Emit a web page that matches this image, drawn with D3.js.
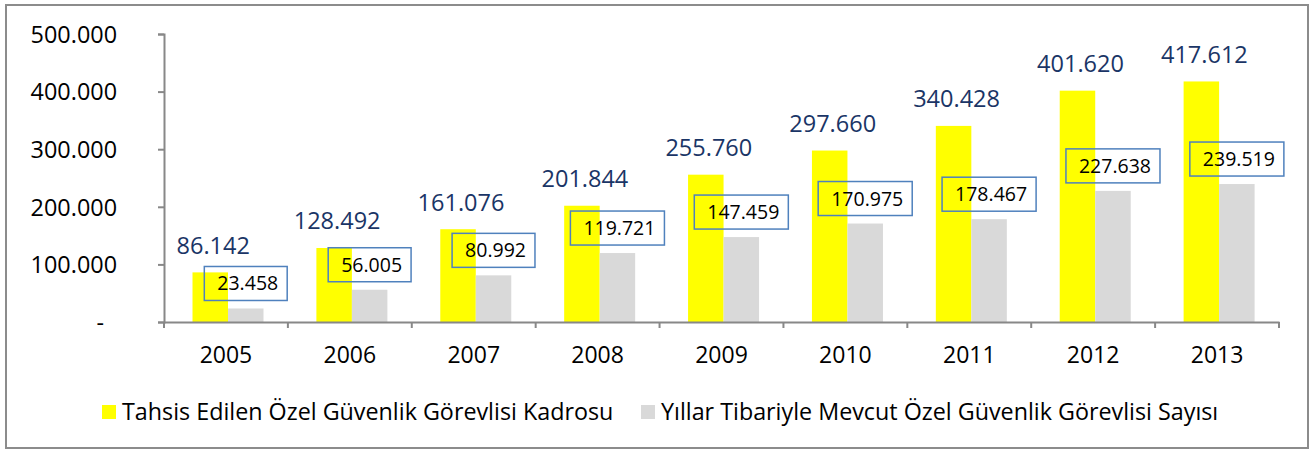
<!DOCTYPE html>
<html>
<head>
<meta charset="utf-8">
<script src="https://cdn.jsdelivr.net/npm/d3@7"></script>
<style>
  body { margin: 0; background: #fff; }
  svg { display: block; font-family: "Open Sans", sans-serif; }
</style>
</head>
<body>
<svg id="chart"></svg>
<script>
const years = ["2005", "2006", "2007", "2008", "2009", "2010", "2011", "2012", "2013"];
const allocated = [86142, 128492, 161076, 201844, 255760, 297660, 340428, 401620, 417612];
const actual = [23458, 56005, 80992, 119721, 147459, 170975, 178467, 227638, 239519];
const yTicks = [0, 100000, 200000, 300000, 400000, 500000];
const seriesNames = ["Tahsis Edilen Özel Güvenlik Görevlisi Kadrosu", "Yıllar Tibariyle Mevcut Özel Güvenlik Görevlisi Sayısı"];
const seriesColors = ["#FFFF00", "#D9D9D9"];

const width = 1314, height = 452;
const svg = d3.select("#chart").attr("width", width).attr("height", height);

const tr = d3.formatLocale({ decimal: ",", thousands: ".", grouping: [3], currency: ["", ""] });
const fmt = tr.format(",d");

// outer frame
svg.append("rect")
    .attr("x", 6).attr("y", 5)
    .attr("width", 1302).attr("height", 443)
    .attr("fill", "#fff")
    .attr("stroke", "#8c8c8c")
    .attr("stroke-width", 2);

const plot = {left: 164, right: 1279, top: 34, bottom: 322};

const x = d3.scaleBand().domain(years).range([plot.left, plot.right]).padding(0);
const xs = d3.scaleBand().domain([0, 1]).range([28.5, 28.5 + 71]).padding(0);
const y = d3.scaleLinear().domain([0, 500000]).range([plot.bottom, plot.top]);

// bars
const groups = svg.selectAll(".grp")
    .data(years)
    .enter().append("g")
    .attr("class", "grp")
    .attr("transform", d => `translate(${x(d)},0)`);

groups.append("rect")
    .attr("x", xs(0)).attr("width", xs.bandwidth())
    .attr("y", (d, i) => y(allocated[i]))
    .attr("height", (d, i) => plot.bottom - y(allocated[i]))
    .attr("fill", seriesColors[0]);

groups.append("rect")
    .attr("x", xs(1)).attr("width", xs.bandwidth())
    .attr("y", (d, i) => y(actual[i]))
    .attr("height", (d, i) => plot.bottom - y(actual[i]))
    .attr("fill", seriesColors[1]);

// axes
const yAxis = svg.append("g")
    .attr("transform", `translate(${plot.left},0)`)
    .call(d3.axisLeft(y).tickValues(yTicks).tickSize(6).tickPadding(0).tickFormat(d => d === 0 ? "-" : fmt(d)))
    .attr("font-family", "'Open Sans', sans-serif");
yAxis.select(".domain").attr("stroke", "#888").attr("stroke-width", 2);
yAxis.selectAll(".tick line").attr("stroke", "#888").attr("stroke-width", 2);
yAxis.selectAll(".tick text")
    .attr("x", d => d === 0 ? -60 : -47)
    .attr("dy", "0.35em")
    .attr("fill", "#000")
    .style("font-size", "23.4px");

const xAxis = svg.append("g")
    .attr("transform", `translate(0,${plot.bottom})`)
    .call(d3.axisBottom(x).tickSize(0).tickPadding(0))
    .attr("font-family", "'Open Sans', sans-serif");
xAxis.select(".domain").attr("stroke", "#888").attr("stroke-width", 2);
xAxis.selectAll(".tick text")
    .attr("y", 33)
    .attr("dy", "0.35em")
    .attr("fill", "#000")
    .style("font-size", "23px");

// x tick marks at band edges
svg.append("g").selectAll("line")
    .data(years.concat(["end"]))
    .enter().append("line")
    .attr("x1", (d, i) => i < years.length ? x(d) : plot.right)
    .attr("x2", (d, i) => i < years.length ? x(d) : plot.right)
    .attr("y1", plot.bottom).attr("y2", plot.bottom + 6)
    .attr("stroke", "#888").attr("stroke-width", 2);

// labels above yellow bars
groups.append("text")
    .attr("x", xs(0) + xs.bandwidth() / 2 + 3)
    .attr("y", (d, i) => y(allocated[i]) - 18.5)
    .attr("text-anchor", "middle")
    .attr("fill", "#1A3566")
    .style("font-size", "23.5px")
    .text((d, i) => fmt(allocated[i]));

// boxed labels above gray bars
groups.each(function(d, i) {
    const g = d3.select(this);
    const cx = xs(1) + xs.bandwidth() / 2;
    const bottom = y(actual[i]) - 8;
    const t = g.append("text")
        .attr("x", cx + 2)
        .attr("y", bottom - 10)
        .attr("text-anchor", "middle")
        .attr("fill", "#000")
        .style("font-size", "19.5px")
        .text(fmt(actual[i]));
    const w = t.node().getComputedTextLength() + 22;
    g.insert("rect", "text")
        .attr("x", cx - w / 2).attr("y", bottom - 34)
        .attr("width", w).attr("height", 34)
        .attr("fill", "none")
        .attr("stroke", "#4F81BD")
        .attr("stroke-width", 1.5);
});

// legend
const legendX = [102, 641];
const legend = svg.append("g").selectAll("g")
    .data(seriesNames)
    .enter().append("g")
    .attr("transform", (d, i) => `translate(${legendX[i]},405)`);
legend.append("rect")
    .attr("width", 14).attr("height", 14)
    .attr("fill", (d, i) => seriesColors[i]);
legend.append("text")
    .attr("x", 20).attr("y", 7)
    .attr("dy", "0.35em")
    .attr("fill", "#000")
    .style("font-size", "23.3px")
    .text(d => d);
</script>
</body>
</html>
